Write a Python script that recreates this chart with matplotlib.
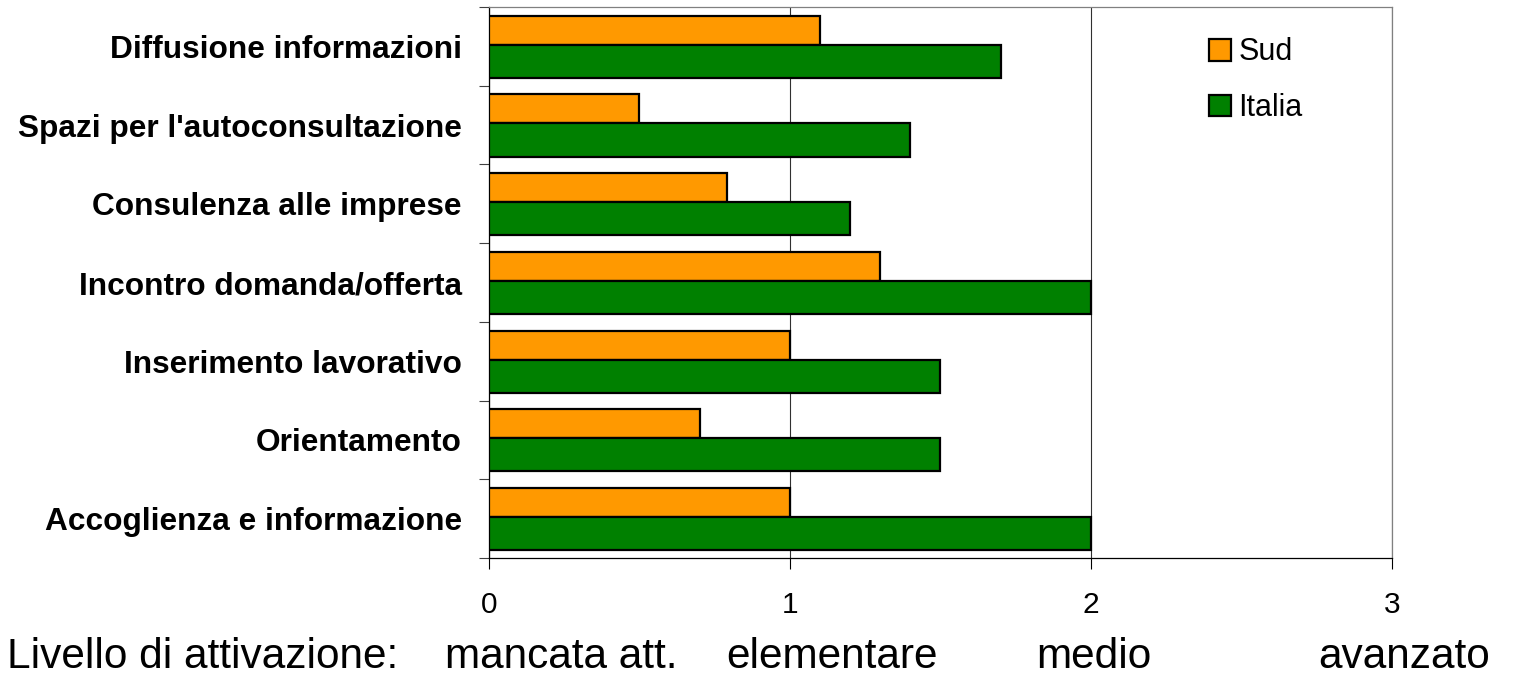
import matplotlib
matplotlib.use("Agg")
import matplotlib.pyplot as plt
import numpy as np

plt.rcParams['font.family'] = ['Liberation Sans', 'DejaVu Sans']

categories = ["Accoglienza e informazione", "Orientamento", "Inserimento lavorativo",
              "Incontro domanda/offerta", "Consulenza alle imprese",
              "Spazi per l'autoconsultazione", "Diffusione informazioni"]
sud = [1.0, 0.7, 1.0, 1.3, 0.79, 0.5, 1.1]
italia = [2.0, 1.5, 1.5, 2.0, 1.2, 1.4, 1.7]
xticks = [0, 1, 2, 3]
level_labels = ["Livello di attivazione:", "mancata att.", "elementare", "medio", "avanzato"]

W, H = 1513, 677
fig = plt.figure(figsize=(W / 100, H / 100), dpi=100)
ax = fig.add_axes([489 / W, 1 - 558 / H, (1392 - 489) / W, (558 - 7) / H])

y = np.arange(len(categories))
ax.barh(y + 0.205, sud, height=0.37, color='#FF9900', edgecolor='black', linewidth=1.6,
        label='Sud', zorder=3)
ax.barh(y - 0.19, italia, height=0.42, color='#008000', edgecolor='black', linewidth=1.6,
        label='Italia', zorder=3)

ax.set_xlim(0, 3)
ax.set_ylim(-0.5, len(categories) - 0.5)
ax.set_xticks(xticks)
ax.set_xticklabels([str(t) for t in xticks], fontsize=21.5)
ax.tick_params(axis='x', length=8, width=0.8, pad=16, color='black')
ax.set_yticks(y)
ax.set_yticklabels(categories, fontsize=22.8, fontweight='bold')
ax.tick_params(axis='y', which='major', length=0, pad=19.5)
ax.set_yticks(np.arange(-0.5, len(categories), 1.0), minor=True)
ax.tick_params(axis='y', which='minor', length=7, width=0.8, color='#404040')

ax.xaxis.grid(True, color='#303030', linewidth=0.8, zorder=0)
ax.set_axisbelow(True)
for s in ['top', 'right']:
    ax.spines[s].set_color('#808080')
    ax.spines[s].set_linewidth(0.9)
for s in ['left', 'bottom']:
    ax.spines[s].set_color('black')
    ax.spines[s].set_linewidth(0.9)

handles, labels = ax.get_legend_handles_labels()
ax.legend(handles, labels, loc='upper left', bbox_to_anchor=(0.797, 0.945),
          frameon=False, fontsize=22, handlelength=0.72, handleheight=0.72,
          handletextpad=0.25, labelspacing=0.85, borderpad=0, borderaxespad=0)

xs = [7, 445, 726, 1036, 1318]
for lab, xp in zip(level_labels, xs):
    fig.text(xp / W, 1 - 668 / H, lab, fontsize=30.5, ha='left', va='baseline')

fig.savefig('out.png', dpi=100)
